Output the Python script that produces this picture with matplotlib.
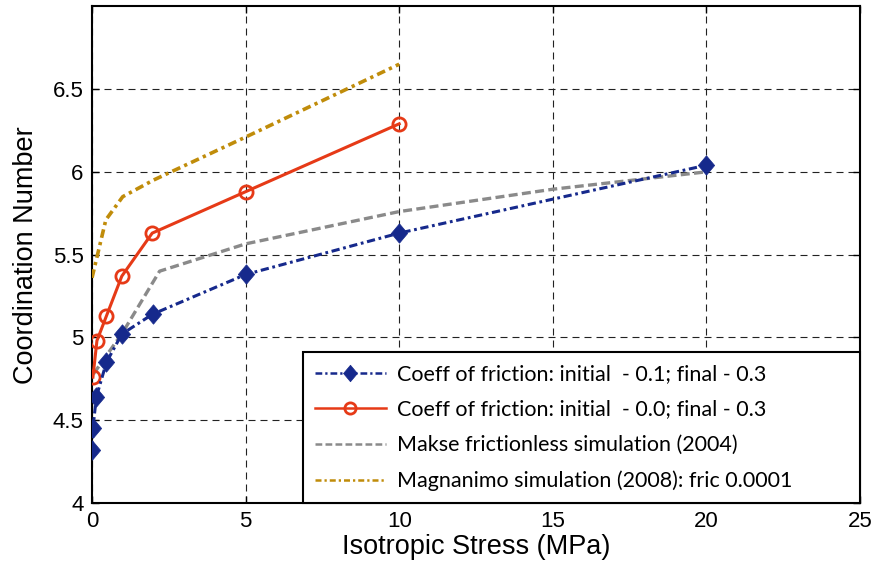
import matplotlib
matplotlib.use("Agg")
import matplotlib.pyplot as plt

# Isotropic stress (MPa) vs coordination number
stress_fric01 = [0.0, 0.03, 0.14, 0.47, 0.97, 1.97, 5.0, 10.0, 20.0]
cn_fric01 = [4.32, 4.45, 4.64, 4.85, 5.02, 5.14, 5.38, 5.63, 6.04]

stress_fric00 = [0.03, 0.16, 0.47, 0.97, 1.96, 5.0, 10.0]
cn_fric00 = [4.76, 4.98, 5.13, 5.37, 5.63, 5.88, 6.29]

stress_makse = [0.05, 1.0, 2.2, 5.0, 10.0, 15.0, 20.0]
cn_makse = [4.78, 5.03, 5.40, 5.565, 5.76, 5.895, 6.0]

stress_magn = [0.0, 0.45, 1.0, 2.0, 5.0, 10.0]
cn_magn = [5.36, 5.71, 5.85, 5.95, 6.21, 6.65]

labels = [
    "Coeff of friction: initial  - 0.1; final - 0.3",
    "Coeff of friction: initial  - 0.0; final - 0.3",
    "Makse frictionless simulation (2004)",
    "Magnanimo simulation (2008): fric 0.0001",
]
x_ticks = [0, 5, 10, 15, 20, 25]
y_ticks = [4, 4.5, 5, 5.5, 6, 6.5]
y_ticklabels = ["4", "4.5", "5", "5.5", "6", "6.5"]

axis_font = "Liberation Sans"
legend_font = "Lato"

# slightly tall diamond marker
diamond = [(-0.84, 0.0), (0.0, 1.0), (0.84, 0.0), (0.0, -1.0), (-0.84, 0.0)]

fig = plt.figure(figsize=(8.73, 5.69), dpi=100)
ax = fig.add_axes([0.1054, 0.116, 0.8797, 0.873])

ax.plot(stress_fric01, cn_fric01, color="#16298c", linestyle=(0, (2.7, 1.2, 0.9, 1.2)),
        linewidth=2.2, marker=diamond, markersize=14, markerfacecolor="#16298c",
        markeredgecolor="#16298c", markeredgewidth=0.5, label=labels[0], zorder=5)
ax.plot(stress_fric00, cn_fric00, color="#e63a17", linestyle="-", linewidth=2.2,
        marker="o", markersize=9.5, markerfacecolor="none", markeredgecolor="#e63a17",
        markeredgewidth=2.0, label=labels[1], zorder=4)
ax.plot(stress_makse, cn_makse, color="#8a8a8a", linestyle=(0, (2.7, 1.3)), linewidth=2.4,
        label=labels[2], zorder=3)
ax.plot(stress_magn, cn_magn, color="#c08c0a", linestyle=(0, (2.4, 1.2, 0.9, 1.2)),
        linewidth=2.6, label=labels[3], zorder=3)

ax.set_xlim(0, 25)
ax.set_ylim(4, 7)
ax.set_xticks(x_ticks)
ax.set_xticklabels([str(t) for t in x_ticks])
ax.set_yticks(y_ticks)
ax.set_yticklabels(y_ticklabels)

ax.grid(True, color="#222222", linestyle=(0, (6.3, 4.5)), linewidth=0.8)
ax.tick_params(direction="in", top=True, right=True, length=5, width=1,
               labelsize=16, pad=6)
for lab in ax.get_xticklabels() + ax.get_yticklabels():
    lab.set_fontfamily(axis_font)
for sp in ax.spines.values():
    sp.set_linewidth(1.5)

ax.set_xlabel("Isotropic Stress (MPa)", fontsize=19.5, family=axis_font, labelpad=1)
ax.set_ylabel("Coordination Number", fontsize=19.5, family=axis_font, labelpad=10)

leg = ax.legend(loc="lower left", bbox_to_anchor=(0.2747, 0.0, 0.7253, 0.31),
                mode="expand", borderaxespad=0.0,
                fancybox=False, framealpha=1, edgecolor="black",
                prop={"family": legend_font, "size": 15.5},
                handlelength=3.3, handletextpad=0.5, labelspacing=0.72,
                borderpad=0.55, markerscale=0.85)
leg.get_frame().set_linewidth(1.5)
for line in leg.get_lines():
    line.set_linewidth(1.8)

fig.savefig("out.png", dpi=100)
